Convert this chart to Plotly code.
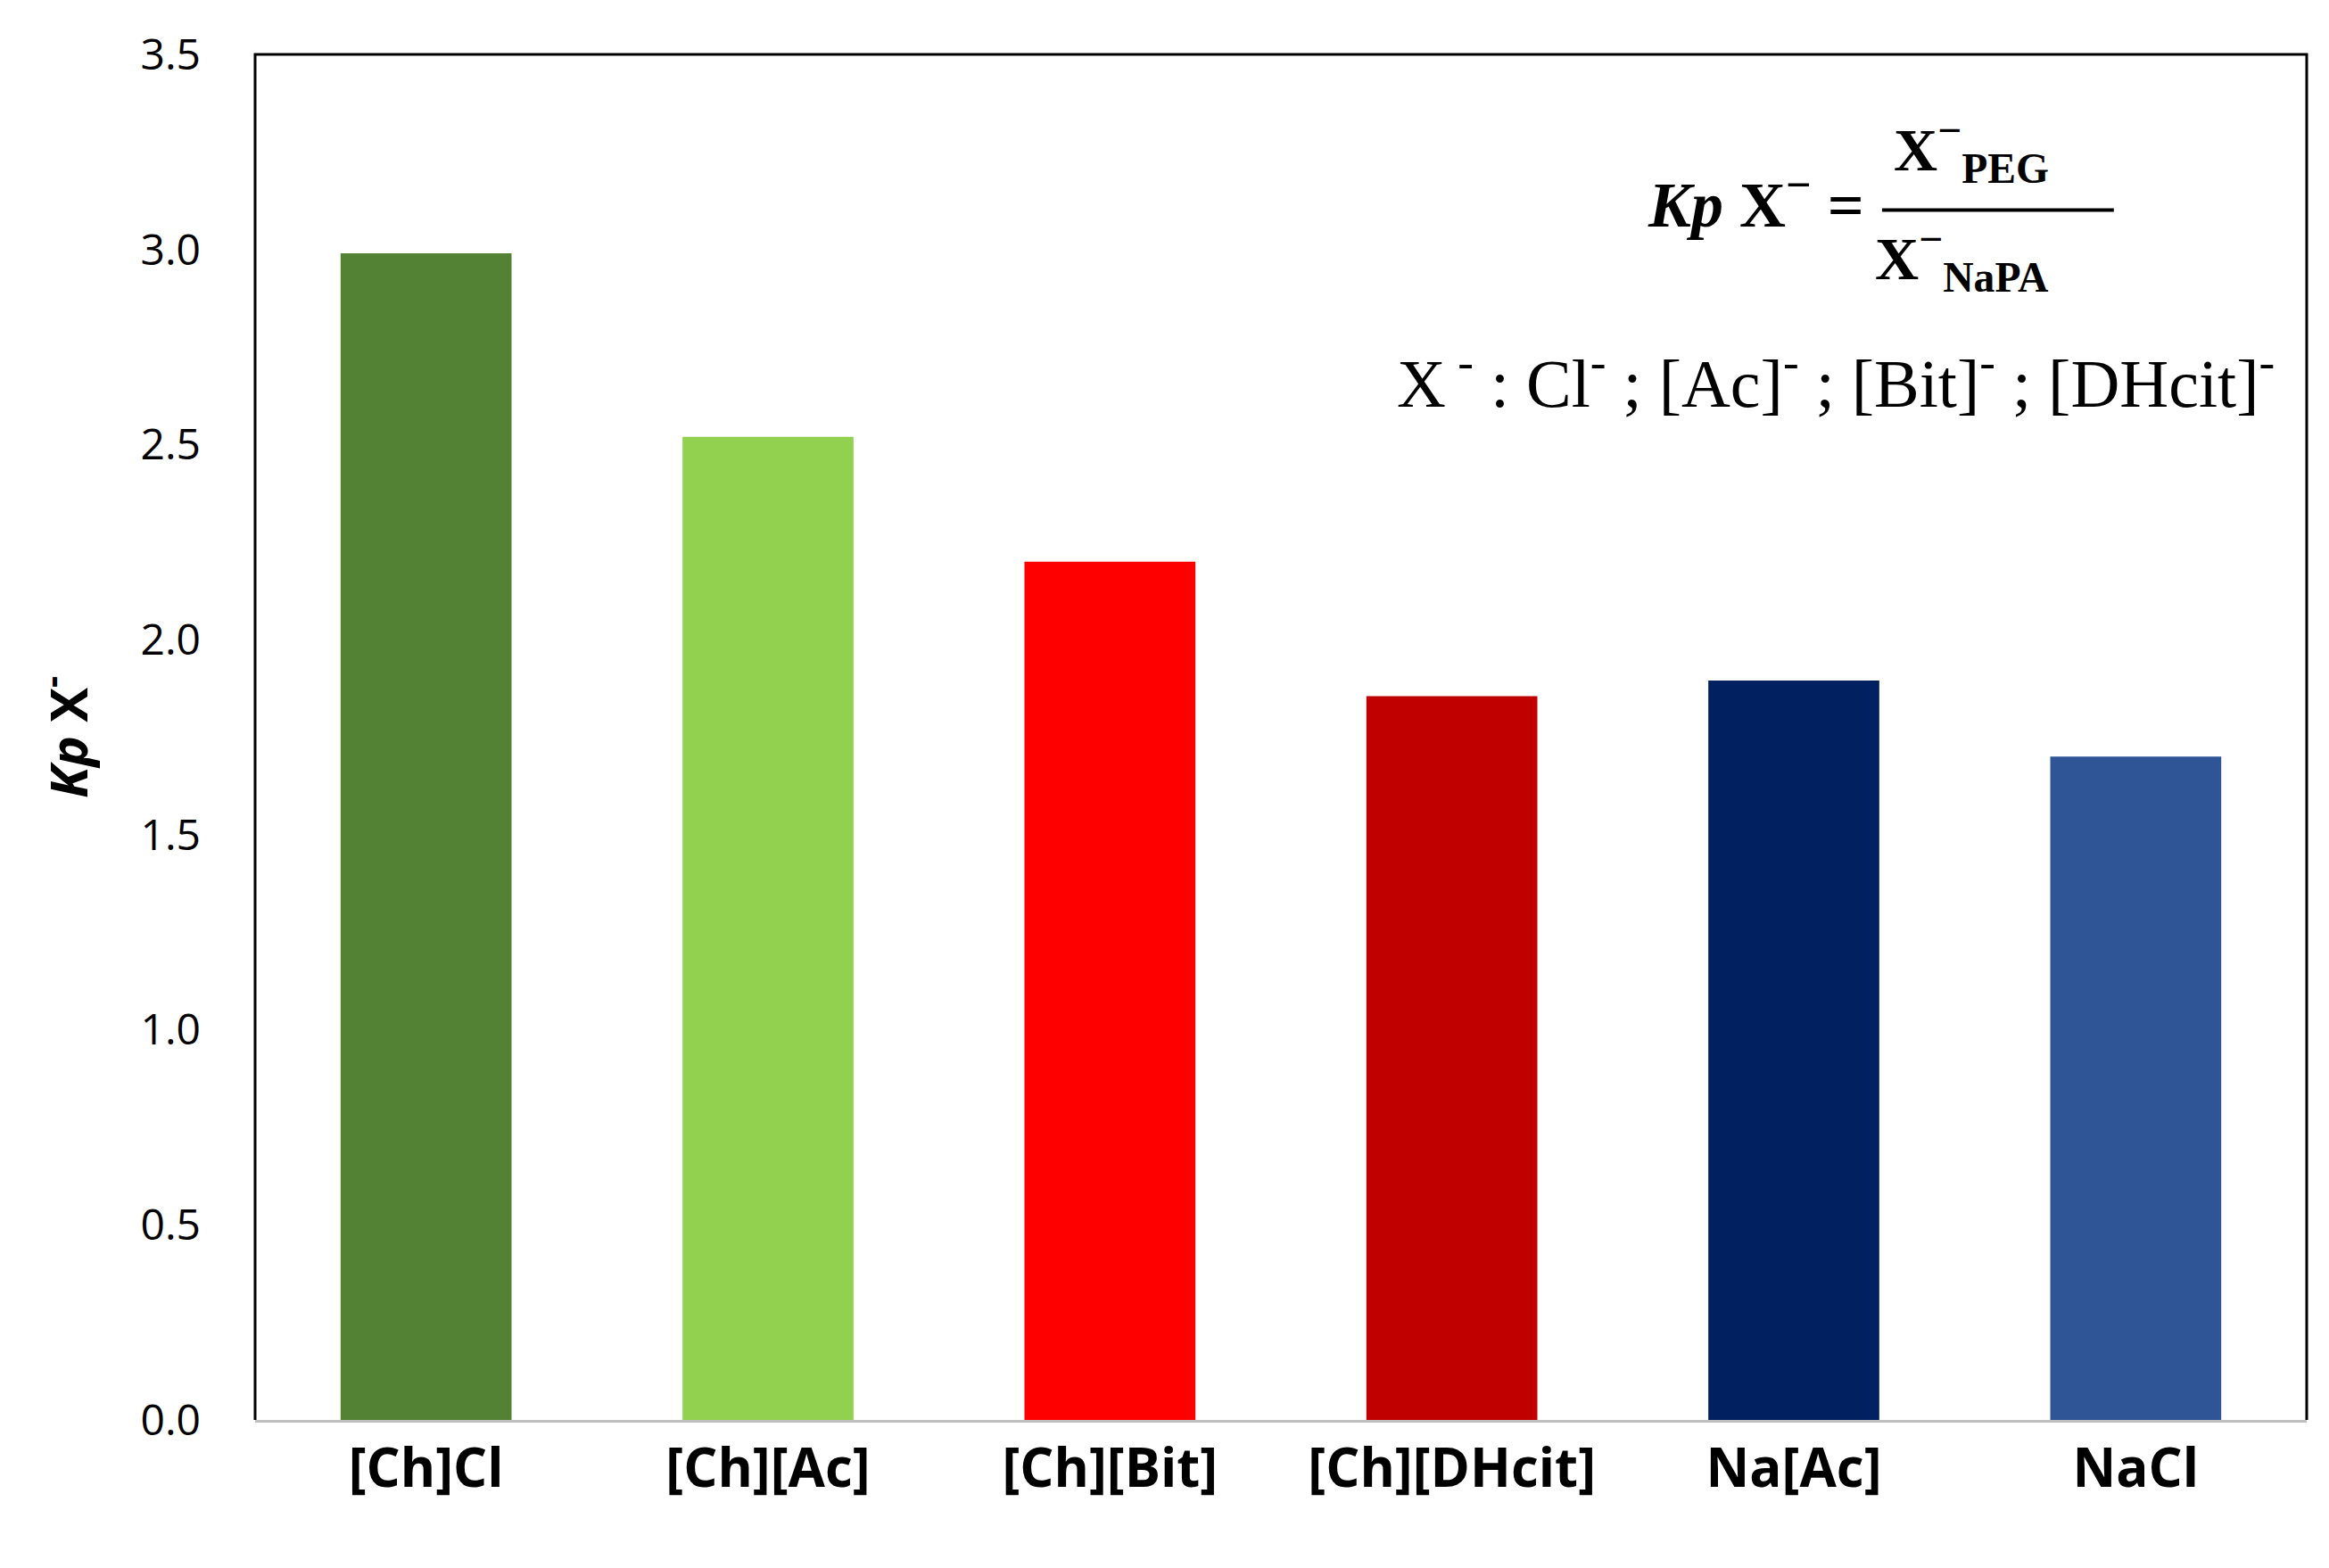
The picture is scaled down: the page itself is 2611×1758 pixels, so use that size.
import plotly.graph_objects as go

categories = ['[Ch]Cl', '[Ch][Ac]', '[Ch][Bit]', '[Ch][DHcit]', 'Na[Ac]', 'NaCl']
kp_values = [2.99, 2.52, 2.20, 1.855, 1.895, 1.70]
bar_colors = ['#548235', '#92D050', '#FF0000', '#C00000', '#002060', '#2F5597']
y_ticks = [0.0, 0.5, 1.0, 1.5, 2.0, 2.5, 3.0, 3.5]

fig = go.Figure(go.Bar(x=categories, y=kp_values, marker=dict(color=bar_colors, line=dict(width=0)), width=0.5))

serif = 'Liberation Serif'
fig.update_layout(
    width=2611, height=1758,
    margin=dict(l=278, r=33, t=53, b=174),
    plot_bgcolor='white', paper_bgcolor='white',
    showlegend=False,
    font=dict(family='Open Sans', color='black'),
    xaxis=dict(showline=True, linecolor='#bfbfbf', linewidth=3, mirror=False,
               tickfont=dict(size=60, family='Open Sans'), ticks='',
               tickvals=categories, ticktext=['<b>%s</b>' % c for c in categories]),
    yaxis=dict(range=[0, 3.5], tickvals=y_ticks, ticktext=['%.1f' % t for t in y_ticks],
               tickfont=dict(size=48), showgrid=False, zeroline=False,
               showline=False, ticks='', ticklabelstandoff=60,
               title=dict(text='<b><i>Kp</i> X<sup>-</sup></b>', font=dict(size=58), standoff=40)),
)
# border box (left, top, right)
fig.add_shape(type='path', xref='paper', yref='paper', path='M0,0 L0,1 L1,1 L1,0',
              line=dict(color='black', width=3))

fig.add_annotation(xref='paper', yref='paper', x=0.785, y=0.924, xanchor='right', showarrow=False,
                   text='<b><i>Kp</i> X<sup>−</sup> =</b>', font=dict(family=serif, size=72))
fig.add_annotation(xref='paper', yref='paper', x=0.875, y=0.963, showarrow=False,
                   text='<b>X<sup>−</sup><sub>PEG</sub></b>', font=dict(family=serif, size=68))
fig.add_shape(type='line', xref='paper', yref='paper', x0=0.793, x1=0.906, y0=0.886, y1=0.886,
              line=dict(color='black', width=4))
fig.add_annotation(xref='paper', yref='paper', x=0.875, y=0.883, showarrow=False,
                   text='<b>X<sup>−</sup><sub>NaPA</sub></b>', font=dict(family=serif, size=68))
fig.add_annotation(xref='paper', yref='paper', x=0.985, y=0.795, xanchor='right', showarrow=False,
                   text='X<sup> -</sup> : Cl<sup>-</sup> ; [Ac]<sup>-</sup> ; [Bit]<sup>-</sup> ; [DHcit]<sup>-</sup>',
                   font=dict(family=serif, size=76))

fig.write_html('out.html')
